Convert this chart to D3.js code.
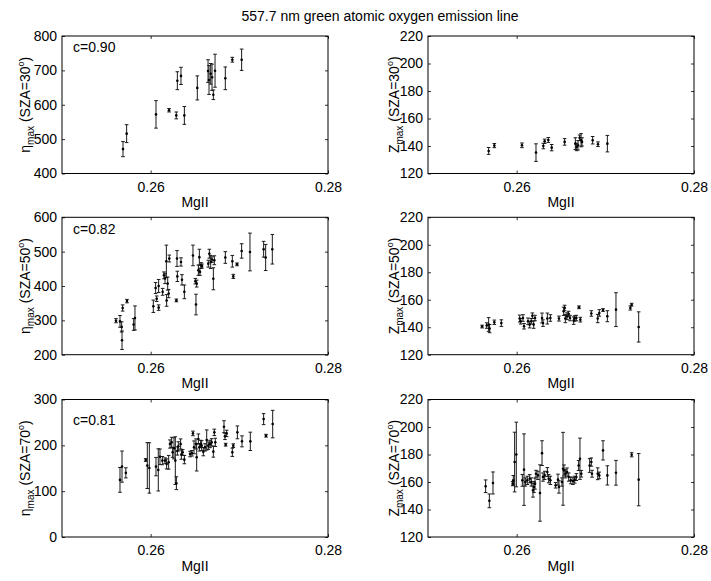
<!DOCTYPE html>
<html><head><meta charset="utf-8">
<script src="https://cdn.jsdelivr.net/npm/d3@7"></script>
<style>
body{margin:0;background:#fff}
svg{display:block}
text{font-family:"Liberation Sans",Arial,Helvetica,sans-serif;fill:#000}
</style>
</head><body>
<svg id="chart" width="711" height="581"></svg>
<script>
const title = "557.7 nm green atomic oxygen emission line";
const xLabel = "MgII";
const xDomain = [0.25, 0.28];
const xTicks = [0.26, 0.28];
const etaTicks30 = [400, 500, 600, 700, 800];
const etaTicks50 = [200, 300, 400, 500, 600];
const etaTicks70 = [0, 100, 200, 300];
const zTicks = [120, 140, 160, 180, 200, 220];
const corr = ["c=0.90", "c=0.82", "c=0.81"];
const sza = ["30", "50", "70"];

// SZA = 30
const mgii30L = [0.25688,0.25729,0.2606,0.26207,0.26289,0.26301,0.26342,0.2638,0.26526,0.26647,0.26658,0.26677,0.26692,0.26707,0.26726,0.26842,0.26921,0.27026];
const eta30 = [471,516,572,584,569,670,684,569,649,698,672,690,680,629,699,677,731,731];
const eta30Err = [22,26,40,5,10,26,25,26,35,33,42,30,38,14,48,33,7,31];
const mgii30R = [0.25684,0.25748,0.2606,0.26218,0.26301,0.26316,0.26357,0.26395,0.26541,0.26662,0.26677,0.26692,0.2671,0.26726,0.26737,0.26857,0.26917,0.27023];
const z30 = [136.4,140.3,140.5,135.2,140,143.4,144.4,138.8,143,141.7,139.3,140.5,146,144.2,143,144.2,141.3,141.7];
const z30Err = [2.5,1.5,1.7,6.4,2,1.6,1.8,2.3,2.4,4.3,2.7,3.4,2,4.8,3,2.7,1.7,6];

// SZA = 50
const mgii50L = [0.25609,0.25654,0.25673,0.25677,0.25684,0.25733,0.25808,0.25823,0.2603,0.26056,0.26068,0.2609,0.2609,0.26135,0.2615,0.26162,0.26177,0.2618,0.26192,0.26203,0.2621,0.2629,0.26297,0.26301,0.26342,0.26353,0.2638,0.26477,0.26504,0.26511,0.26519,0.26538,0.26549,0.26556,0.26568,0.26579,0.2665,0.26662,0.26677,0.26692,0.26707,0.26718,0.26842,0.26921,0.26932,0.26974,0.27026,0.2712,0.27274,0.27297,0.27372];
const eta50 = [299,297,281,242,336,356,288,307,341,394,363,400,337,383,431,422,472,358,407,378,480,358,480,428,470,418,383,489,414,346,407,446,484,441,460,458,465,494,470,477,421,475,483,472,428,463,502,499,507,483,507];
const eta50Err = [6,17,15,27,9,5,17,35,18,16,8,19,8,10,10,15,47,17,19,12,10,4,23,15,12,15,20,30,8,30,10,15,23,10,8,6,10,13,19,8,32,13,17,17,6,4,21,55,23,38,43];
const mgii50R = [0.2561,0.25662,0.25684,0.25695,0.25748,0.25827,0.26034,0.26045,0.26071,0.26083,0.26128,0.26147,0.26165,0.26177,0.26192,0.26207,0.26286,0.26297,0.26346,0.2638,0.26477,0.2653,0.26541,0.26549,0.26568,0.26586,0.26602,0.26643,0.26654,0.26673,0.26703,0.26718,0.26842,0.26914,0.26932,0.26974,0.27023,0.2712,0.27282,0.27297,0.27376];
const z50 = [140.5,141.2,142,139,143.6,143,146.3,144.3,146.7,140.7,144.3,141.9,144.3,148.4,141.9,146.7,146.7,143,146.3,146.7,146.3,151.6,154,146.3,148,149.6,146.7,144.8,146.3,146.7,154.5,145.5,150,146.3,150.4,152.5,148,152.8,154,156.4,140.2];
const z50Err = [1,2,5,3,1.6,2.4,2.5,2,2.4,2,2.4,2.4,2,2,2.7,2,3.6,2.4,4,2.4,1.8,3,2,3,2.5,2,2,2.7,2,2,1,1.7,2,3,2.4,1,4,12.3,1.5,1,11];

// SZA = 70
const mgii70L = [0.25654,0.25677,0.2572,0.25944,0.25962,0.25985,0.2606,0.26086,0.26105,0.26132,0.26162,0.2618,0.26203,0.26218,0.26237,0.26248,0.26263,0.26278,0.2629,0.26301,0.26312,0.26338,0.26346,0.26361,0.2638,0.26444,0.26466,0.26477,0.26489,0.26511,0.26519,0.26538,0.26549,0.26564,0.26575,0.26594,0.26613,0.26632,0.2665,0.26669,0.26688,0.26707,0.26718,0.26729,0.26827,0.26838,0.26846,0.26857,0.26921,0.26932,0.26978,0.2703,0.27124,0.27274,0.27301,0.27376];
const eta70 = [124.6,153.6,140,168,155.8,150.7,153.6,146.4,175,166.7,166.7,159.4,163,202.9,206.5,184.8,193.5,166.7,117.4,187.7,197.8,203,179.7,184.8,168.8,181,182.6,226,195.6,203,174,213.8,195.6,203,199.3,186.2,195.6,211.6,199.3,203,206.5,186.2,228.3,206.5,240.6,219.6,201.4,226,184.8,199.3,228.3,208.7,208.7,257.2,221,246.4];
const eta70Err = [27,34,11,3,50,55,20,46,17,9,6,11,15,9,11,11,23,52,14,9,10,11,10,6,9,6,6,5,14,11,30,11,8,8,11,9,8,22,8,8,8,12,7,9,13,7,3,7,9,4,14,12,20,12,3,30];
const mgii70R = [0.2565,0.25692,0.25733,0.25955,0.25962,0.25977,0.25996,0.26064,0.26083,0.26098,0.2612,0.26147,0.26165,0.26184,0.26195,0.26207,0.26218,0.2624,0.26263,0.26286,0.26297,0.26316,0.26346,0.26361,0.2638,0.2644,0.26466,0.26477,0.26511,0.26523,0.26534,0.26549,0.26568,0.26587,0.2661,0.26635,0.26654,0.26673,0.26699,0.26714,0.26729,0.26823,0.26842,0.2685,0.26914,0.26932,0.26974,0.27023,0.2712,0.27297,0.27376];
const z70 = [156.9,146.3,159.3,158.8,161.2,174.5,180,161.2,169,160,161.2,162.4,160,154,156.4,158.8,166,164.8,152,181,163.6,164.8,167.2,162.4,161.2,157.6,161.7,156.4,160,169.6,168.4,166,167.2,163.6,161.2,160.7,161.7,163.6,172,176.9,166,172,174.5,166,166,164.8,183,164.8,166.7,179.8,161.7];
const z70Err = [4.6,5,8,1.5,3.5,21.7,23.5,4.3,26,3,3,3,3,5,4,4,2.5,3,20.5,9,3,3,3.3,3,3,2,4,4.5,3,26.5,4,3,3,3,2.5,2.5,2.5,2.5,3.6,15,2.4,5,3,2.5,4.3,2.4,7,7,9,1.5,19];

const cols = [{x0:62, x1:328, ylabX:30, sym:"\u03B7"}, {x0:428, x1:694, ylabX:399, sym:"Z"}];
const rows = [{y0:36, y1:173.5}, {y0:217.3, y1:354.7}, {y0:399.5, y1:537}];

const panels = [
  {r:0,c:0,x:mgii30L,y:eta30,e:eta30Err,ticks:etaTicks30,corr:corr[0],cy:16},
  {r:0,c:1,x:mgii30R,y:z30,e:z30Err,ticks:zTicks},
  {r:1,c:0,x:mgii50L,y:eta50,e:eta50Err,ticks:etaTicks50,corr:corr[1],cy:17},
  {r:1,c:1,x:mgii50R,y:z50,e:z50Err,ticks:zTicks},
  {r:2,c:0,x:mgii70L,y:eta70,e:eta70Err,ticks:etaTicks70,corr:corr[2],cy:25},
  {r:2,c:1,x:mgii70R,y:z70,e:z70Err,ticks:zTicks}
];

const svg = d3.select("#chart");
svg.append("rect").attr("width",711).attr("height",581).attr("fill","#fff");
svg.append("text").attr("x",380).attr("y",21).attr("text-anchor","middle")
  .attr("font-size",14).text(title);

const FS = 14;
panels.forEach(p => {
  const C = cols[p.c], R = rows[p.r];
  const xs = d3.scaleLinear().domain(xDomain).range([C.x0, C.x1]);
  const yd = d3.extent(p.ticks);
  const ys = d3.scaleLinear().domain(yd).range([R.y1, R.y0]);
  const g = svg.append("g");

  const styleAxis = sel => {
    sel.select(".domain").remove();
    sel.selectAll(".tick line").attr("stroke","#000").attr("stroke-width",0.8);
    sel.selectAll(".tick text").attr("font-size",FS).attr("font-family",'"Liberation Sans",Arial,sans-serif').attr("fill","#000");
  };
  g.append("g").attr("transform",`translate(0,${R.y1})`)
    .call(d3.axisBottom(xs).tickValues(xTicks).tickSizeInner(-3).tickSizeOuter(0).tickPadding(8.5).tickFormat(d3.format(".2f")))
    .call(styleAxis);
  g.append("g").attr("transform",`translate(0,${R.y0})`)
    .call(d3.axisTop(xs).tickValues(xTicks).tickSizeInner(-3).tickSizeOuter(0).tickFormat(""))
    .call(styleAxis);
  g.append("g").attr("transform",`translate(${C.x0},0)`)
    .call(d3.axisLeft(ys).tickValues(p.ticks).tickSizeInner(-3).tickSizeOuter(0).tickPadding(5).tickFormat(d3.format("d")))
    .call(styleAxis);
  g.append("g").attr("transform",`translate(${C.x1},0)`)
    .call(d3.axisRight(ys).tickValues(p.ticks).tickSizeInner(-3).tickSizeOuter(0).tickFormat(""))
    .call(styleAxis);

  g.append("rect").attr("x",C.x0).attr("y",R.y0).attr("width",C.x1-C.x0).attr("height",R.y1-R.y0)
    .attr("fill","none").attr("stroke","#000").attr("stroke-width",1);

  // x label
  g.append("text").attr("x",(C.x0+C.x1)/2).attr("y",R.y1+33.5).attr("text-anchor","middle")
    .attr("font-size",FS).text(xLabel);

  // y label
  const yl = g.append("text")
    .attr("transform",`translate(${C.ylabX},${(R.y0+R.y1)/2}) rotate(-90)`)
    .attr("text-anchor","middle").attr("font-size",FS);
  yl.append("tspan").text(C.sym);
  yl.append("tspan").attr("font-size",10).attr("dy",4).text("max");
  yl.append("tspan").attr("dy",-4).text(" (SZA=" + sza[p.r]);
  yl.append("tspan").attr("font-size",9).attr("dy",-6).text("o");
  yl.append("tspan").attr("dy",6).text(")");

  if (p.corr) {
    g.append("text").attr("x",C.x0+11).attr("y",R.y0+p.cy).attr("font-size",FS).text(p.corr);
  }

  const data = p.x.map((v,i)=>({x:v,y:p.y[i],e:p.e[i]}));
  const eb = g.append("g").attr("stroke","#1a1a1a").attr("stroke-width",1).attr("fill","none");
  data.forEach(d => {
    const cx = xs(d.x), yt = ys(d.y + d.e), yb = ys(d.y - d.e);
    eb.append("line").attr("x1",cx).attr("x2",cx).attr("y1",yt).attr("y2",yb);
    eb.append("line").attr("x1",cx-1.8).attr("x2",cx+1.8).attr("y1",yt).attr("y2",yt);
    eb.append("line").attr("x1",cx-1.8).attr("x2",cx+1.8).attr("y1",yb).attr("y2",yb);
  });
  g.append("g").selectAll("circle").data(data).join("circle")
    .attr("cx",d=>xs(d.x)).attr("cy",d=>ys(d.y)).attr("r",1.3).attr("fill","#000");
});
</script>
</body></html>
